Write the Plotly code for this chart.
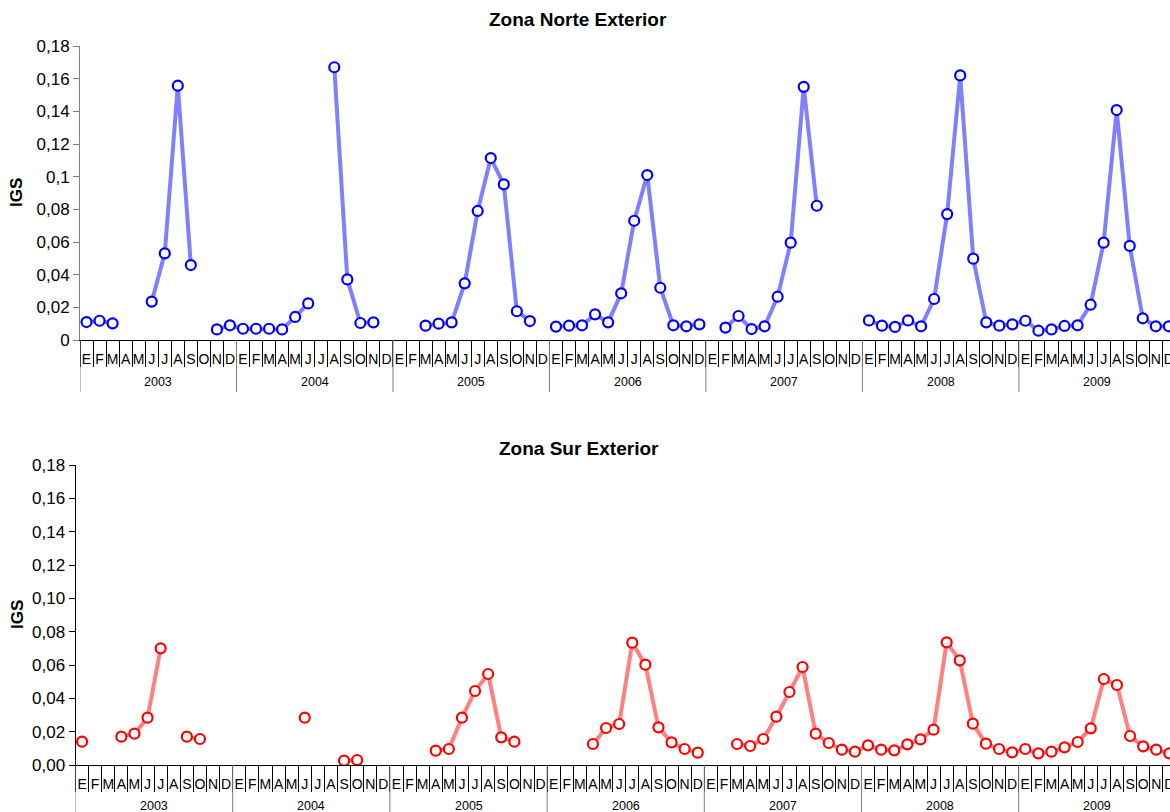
import plotly.graph_objects as go

months = ["E", "F", "M", "A", "M", "J", "J", "A", "S", "O", "N", "D"]
years = ["2003", "2004", "2005", "2006", "2007", "2008", "2009"]

norte_2003 = [0.0110, 0.0118, 0.0102, None, None, 0.0235, 0.0530, 0.1557, 0.0459, None, 0.0065, 0.0090]
norte_2004 = [0.0069, 0.0069, 0.0069, 0.0065, 0.0141, 0.0224, None, 0.1670, 0.0371, 0.0104, 0.0108, None]
norte_2005 = [None, None, 0.0088, 0.0100, 0.0108, 0.0347, 0.0790, 0.1114, 0.0953, 0.0176, 0.0116, None]
norte_2006 = [0.0082, 0.0088, 0.0090, 0.0157, 0.0108, 0.0286, 0.0730, 0.1010, 0.0320, 0.0090, 0.0084, 0.0096]
norte_2007 = [None, 0.0076, 0.0147, 0.0067, 0.0084, 0.0265, 0.0596, 0.1550, 0.0822, None, None, None]
norte_2008 = [0.0120, 0.0088, 0.0080, 0.0120, 0.0084, 0.0251, 0.0771, 0.1620, 0.0498, 0.0108, 0.0088, 0.0096]
norte_2009 = [0.0118, 0.0057, 0.0065, 0.0086, 0.0090, 0.0216, 0.0596, 0.1408, 0.0576, 0.0133, 0.0084, 0.0084]

sur_2003 = [0.0140, None, None, 0.0170, 0.0188, 0.0284, 0.0700, None, 0.0170, 0.0156, None, None]
sur_2004 = [None, None, None, None, None, 0.0284, None, None, 0.0026, 0.0030, None, None]
sur_2005 = [None, None, None, 0.0086, 0.0096, 0.0284, 0.0444, 0.0546, 0.0166, 0.0140, None, None]
sur_2006 = [None, None, None, 0.0126, 0.0222, 0.0246, 0.0734, 0.0602, 0.0226, 0.0136, 0.0096, 0.0074]
sur_2007 = [None, None, 0.0126, 0.0114, 0.0156, 0.0290, 0.0438, 0.0588, 0.0188, 0.0132, 0.0092, 0.0080]
sur_2008 = [0.0118, 0.0092, 0.0088, 0.0124, 0.0154, 0.0212, 0.0736, 0.0628, 0.0248, 0.0128, 0.0096, 0.0076]
sur_2009 = [0.0096, 0.0070, 0.0080, 0.0106, 0.0138, 0.0220, 0.0516, 0.0480, 0.0174, 0.0112, 0.0092, 0.0070]

y_tickvals = [0, 0.02, 0.04, 0.06, 0.08, 0.10, 0.12, 0.14, 0.16, 0.18]
y_ticktext_norte = ["0", "0,02", "0,04", "0,06", "0,08", "0,1", "0,12", "0,14", "0,16", "0,18"]
y_ticktext_sur = ["0,00", "0,02", "0,04", "0,06", "0,08", "0,10", "0,12", "0,14", "0,16", "0,18"]

norte = norte_2003 + norte_2004 + norte_2005 + norte_2006 + norte_2007 + norte_2008 + norte_2009
sur = sur_2003 + sur_2004 + sur_2005 + sur_2006 + sur_2007 + sur_2008 + sur_2009
n = len(months) * len(years)
idx = list(range(n))
month_labels = months * len(years)

W, H = 1170, 812
FONT = "Liberation Sans"

def py(px):
    return (H - px) / H

fig = go.Figure()
fig.add_trace(go.Scatter(
    x=idx, y=norte, mode="lines+markers", xaxis="x", yaxis="y",
    line=dict(color="#8080FF", width=4),
    marker=dict(symbol="circle", size=10, color="white", line=dict(color="#0000FF", width=2.2)),
    connectgaps=False, showlegend=False))
fig.add_trace(go.Scatter(
    x=idx, y=sur, mode="lines+markers", xaxis="x2", yaxis="y2",
    line=dict(color="#FF8080", width=4),
    marker=dict(symbol="circle", size=10, color="white", line=dict(color="#FF0000", width=2.2)),
    connectgaps=False, showlegend=False))

top_x0, top_mw = 80, 13.04
bot_x0, bot_mw = 75.5, 13.1
top_range = [-0.5, -0.5 + (W - top_x0) / top_mw]
bot_range = [-0.5, -0.5 + (W - bot_x0) / bot_mw]

def xaxis_cfg(x0, rng, anchor):
    return dict(
        domain=[x0 / W, 1], range=rng, anchor=anchor, automargin=False,
        showline=True, linecolor="black", linewidth=1,
        showgrid=False, zeroline=False,
        tickmode="array", tickvals=idx, ticktext=month_labels, ticks="",
        tickfont=dict(family=FONT, size=14, color="black"),
        ticklabelstandoff=6, ticklabeloverflow="allow",
        minor=dict(tick0=-0.5, dtick=1, ticks="outside", ticklen=26, tickcolor="black", tickwidth=1),
        fixedrange=True)

def yaxis_cfg(dom, anchor, ticktext, linecolor):
    return dict(
        domain=dom, range=[0, 0.18], anchor=anchor, automargin=False,
        showline=True, linecolor=linecolor, linewidth=1,
        showgrid=False, zeroline=False,
        tickmode="array", tickvals=y_tickvals, ticktext=ticktext,
        ticks="outside", ticklen=6, tickcolor=linecolor,
        tickfont=dict(family=FONT, size=17, color="black"),
        fixedrange=True)

fig.update_layout(
    width=W, height=H, margin=dict(l=0, r=0, t=0, b=0, autoexpand=False),
    paper_bgcolor="white", plot_bgcolor="white",
    xaxis=xaxis_cfg(top_x0, top_range, "y"),
    yaxis=yaxis_cfg([py(340), py(46)], "x", y_ticktext_norte, "#808080"),
    xaxis2=xaxis_cfg(bot_x0, bot_range, "y2"),
    yaxis2=yaxis_cfg([py(765), py(465)], "x2", y_ticktext_sur, "black"),
)

shapes = []
annotations = []
for k in range(len(years) + 1):
    b = k * len(months) - 0.5
    shapes.append(dict(type="line", xref="x", yref="paper", x0=b, x1=b, y0=py(340), y1=py(392),
                       line=dict(color="#808080", width=1)))
    shapes.append(dict(type="line", xref="x2", yref="paper", x0=b, x1=b, y0=py(765), y1=py(812),
                       line=dict(color="#808080", width=1)))
for k, yr in enumerate(years):
    c = k * len(months) + (len(months) - 1) / 2
    annotations.append(dict(text=yr, xref="x", yref="paper", x=c, y=py(382), showarrow=False,
                            font=dict(family=FONT, size=12.5, color="black"), yanchor="middle"))
    annotations.append(dict(text=yr, xref="x2", yref="paper", x=c, y=py(806), showarrow=False,
                            font=dict(family=FONT, size=12.5, color="black"), yanchor="middle"))

annotations.append(dict(text="<b>Zona Norte Exterior</b>", xref="paper", yref="paper",
                        x=578 / W, y=py(20), showarrow=False, yanchor="middle",
                        font=dict(family=FONT, size=19, color="black")))
annotations.append(dict(text="<b>Zona Sur Exterior</b>", xref="paper", yref="paper",
                        x=579 / W, y=py(448), showarrow=False, yanchor="middle",
                        font=dict(family=FONT, size=19, color="black")))
annotations.append(dict(text="<b>IGS</b>", xref="paper", yref="paper", textangle=-90,
                        x=17 / W, y=py(193), showarrow=False, xanchor="center", yanchor="middle",
                        font=dict(family=FONT, size=17, color="black")))
annotations.append(dict(text="<b>IGS</b>", xref="paper", yref="paper", textangle=-90,
                        x=17 / W, y=py(615), showarrow=False, xanchor="center", yanchor="middle",
                        font=dict(family=FONT, size=17, color="black")))

fig.update_layout(shapes=shapes, annotations=annotations)
fig.write_html("out.html")
